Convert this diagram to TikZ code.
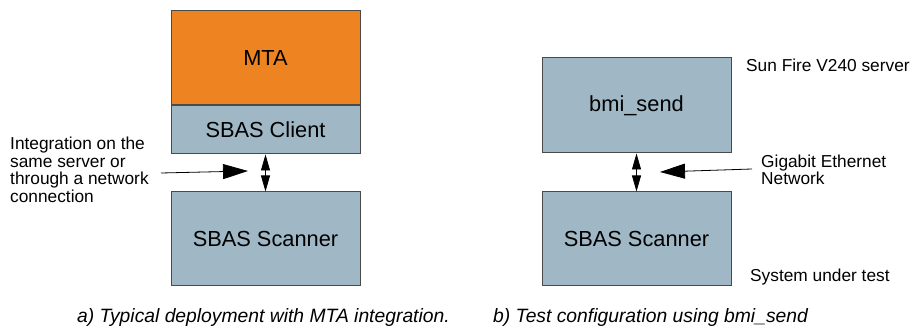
\documentclass[tikz,border=0pt]{standalone}
\usepackage{fontspec}
\setmainfont{Liberation Sans}
\usetikzlibrary{arrows.meta}
\definecolor{boxorange}{HTML}{EE8421}
\definecolor{boxblue}{HTML}{A0B8C6}
\definecolor{boxline}{HTML}{4A4A4A}
\begin{document}
\begin{tikzpicture}[x=1pt,y=-1pt,
  blk/.style={draw=boxline,line width=1pt,inner sep=0pt,font=\fontsize{21.8}{24}\selectfont},
  note/.style={font=\fontsize{17.3}{17.5}\selectfont,align=left,inner sep=0pt,anchor=west},
  capt/.style={font=\fontsize{19.3}{22}\selectfont\itshape,inner sep=0pt},
  link/.style={line width=0.8pt,{Triangle[length=16pt,width=9pt]}-{Triangle[length=16pt,width=9pt]}},
  pointer/.style={line width=0.8pt,-{Triangle[length=25pt,width=15pt]}}]
\useasboundingbox (0,0) rectangle (914,328);
% left diagram
\node[blk,fill=boxorange,minimum width=189pt,minimum height=94pt] (mta) at (265.5,58) {MTA};
\node[blk,fill=boxblue,minimum width=189pt,minimum height=48pt,anchor=north] (client) at (mta.south) {SBAS Client};
\node[blk,fill=boxblue,minimum width=189pt,minimum height=94pt] (scanA) at (265.5,239) {SBAS Scanner};
\draw[link] (client.south) -- (scanA.north);
\node[note] (intnote) at (10,170) {Integration on the\\same server or\\through a network\\connection};
\coordinate (intstart) at (161,173);
\coordinate (inttip) at (248,171);
\draw[pointer] (intstart) -- (inttip);
\node[capt,anchor=west] (capa) at (77,318) {a) Typical deployment with MTA integration.};
% right diagram
\node[blk,fill=boxblue,minimum width=189pt,minimum height=95pt] (bmi) at (636.5,105.5) {bmi\_send};
\node[blk,fill=boxblue,minimum width=189pt,minimum height=94pt] (scanB) at (636.5,239) {SBAS Scanner};
\draw[link] (bmi.south) -- (scanB.north);
\node[note] (sun) at (746,65) {Sun Fire V240 server};
\node[note] (giga) at (761,170) {Gigabit Ethernet\\Network};
\coordinate (gigastart) at (752,169);
\coordinate (gigatip) at (660,172);
\draw[pointer] (gigastart) -- (gigatip);
\node[note] (sut) at (750,277) {System under test};
\node[capt,anchor=west] (capb) at (493,318) {b) Test configuration using bmi\_send};
\end{tikzpicture}
\end{document}
